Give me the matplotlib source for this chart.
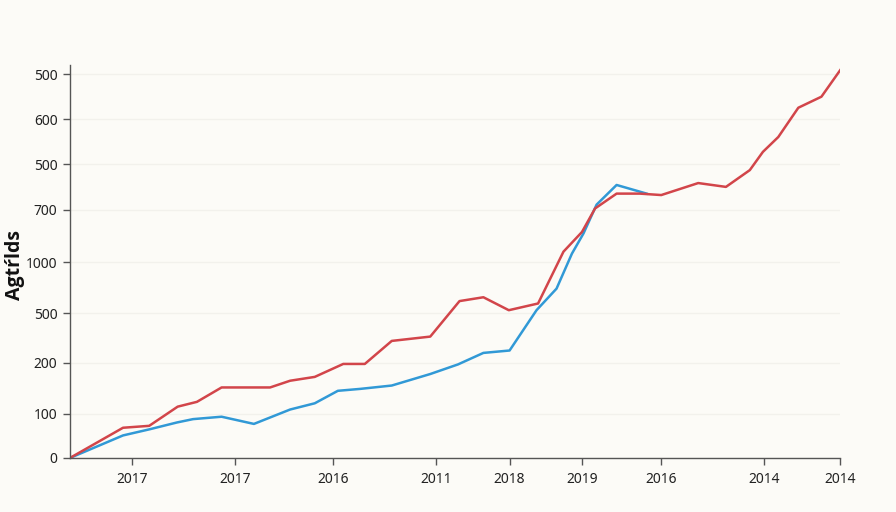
import matplotlib.pyplot as plt

plt.rcParams["font.family"] = ["Noto Sans", "DejaVu Sans"]

# x positions on a 0-100 time scale, y in axis units
red_x = [0, 6.9, 10.3, 14.0, 16.5, 19.7, 26.0, 28.6, 31.8, 35.5, 38.3, 41.8, 46.8,
         50.6, 53.7, 57.0, 60.8, 64.1, 66.5, 68.2, 71.0, 74.0, 76.8, 81.6, 85.2,
         88.3, 90.0, 92.0, 94.6, 97.6, 100.2]
red_y = [0, 63, 67, 107, 117, 147, 147, 161, 169, 196, 196, 244, 253,
         327, 335, 308, 322, 430, 471, 520, 551, 551, 548, 573, 565,
         600, 638, 669, 730, 753, 812]

blue_x = [0, 6.9, 10.4, 13.9, 16.0, 19.7, 23.9, 28.6, 31.8, 34.8, 37.7, 41.8, 46.8,
          50.4, 53.7, 57.1, 60.6, 63.2, 65.2, 66.7, 68.4, 71.0, 74.9]
blue_y = [0, 47, 60, 74, 81, 86, 71, 101, 114, 140, 144, 151, 175,
          195, 219, 224, 308, 353, 426, 468, 528, 569, 551]

x_ticks = [8.05, 21.4, 34.2, 47.5, 57.1, 66.5, 76.8, 90.1, 100]
x_labels = ["2017", "2017", "2016", "2011", "2018", "2019", "2016", "2014", "2014"]

y_ticks = [0, 92, 198, 302, 408, 517, 612, 706, 800]
y_labels = ["0", "100", "200", "500", "1000", "700", "500", "600", "500"]

bg = "#fcfbf7"
fig = plt.figure(figsize=(8.96, 5.12), dpi=100, facecolor=bg)
ax = fig.add_axes([0.078, 0.1055, 0.8594, 0.7675], facecolor=bg)

ax.grid(axis="y", color="#f2f1ec", linewidth=1)
ax.set_axisbelow(True)

ax.plot(blue_x, blue_y, color="#3199d6", linewidth=1.8)
ax.plot(red_x, red_y, color="#d2454a", linewidth=1.8)

ax.set_xlim(0, 100)
ax.set_ylim(0, 819)
ax.set_xticks(x_ticks)
ax.set_xticklabels(x_labels)
ax.set_yticks(y_ticks)
ax.set_yticklabels(y_labels)

for side in ["top", "right"]:
    ax.spines[side].set_visible(False)
for side in ["left", "bottom"]:
    ax.spines[side].set_color("#555555")
    ax.spines[side].set_linewidth(1)

ax.tick_params(axis="both", colors="#555555", labelcolor="#222222",
               labelsize=10, length=5, width=1)
ax.tick_params(axis="x", pad=5)
ax.tick_params(axis="y", pad=4)

ax.set_ylabel("Agtŕlds", fontsize=14, fontweight="bold", color="#111111",
              family=["Open Sans", "DejaVu Sans"])
ax.yaxis.set_label_coords(-0.058, 0.49)

fig.savefig("out.png", dpi=100, facecolor=bg)
